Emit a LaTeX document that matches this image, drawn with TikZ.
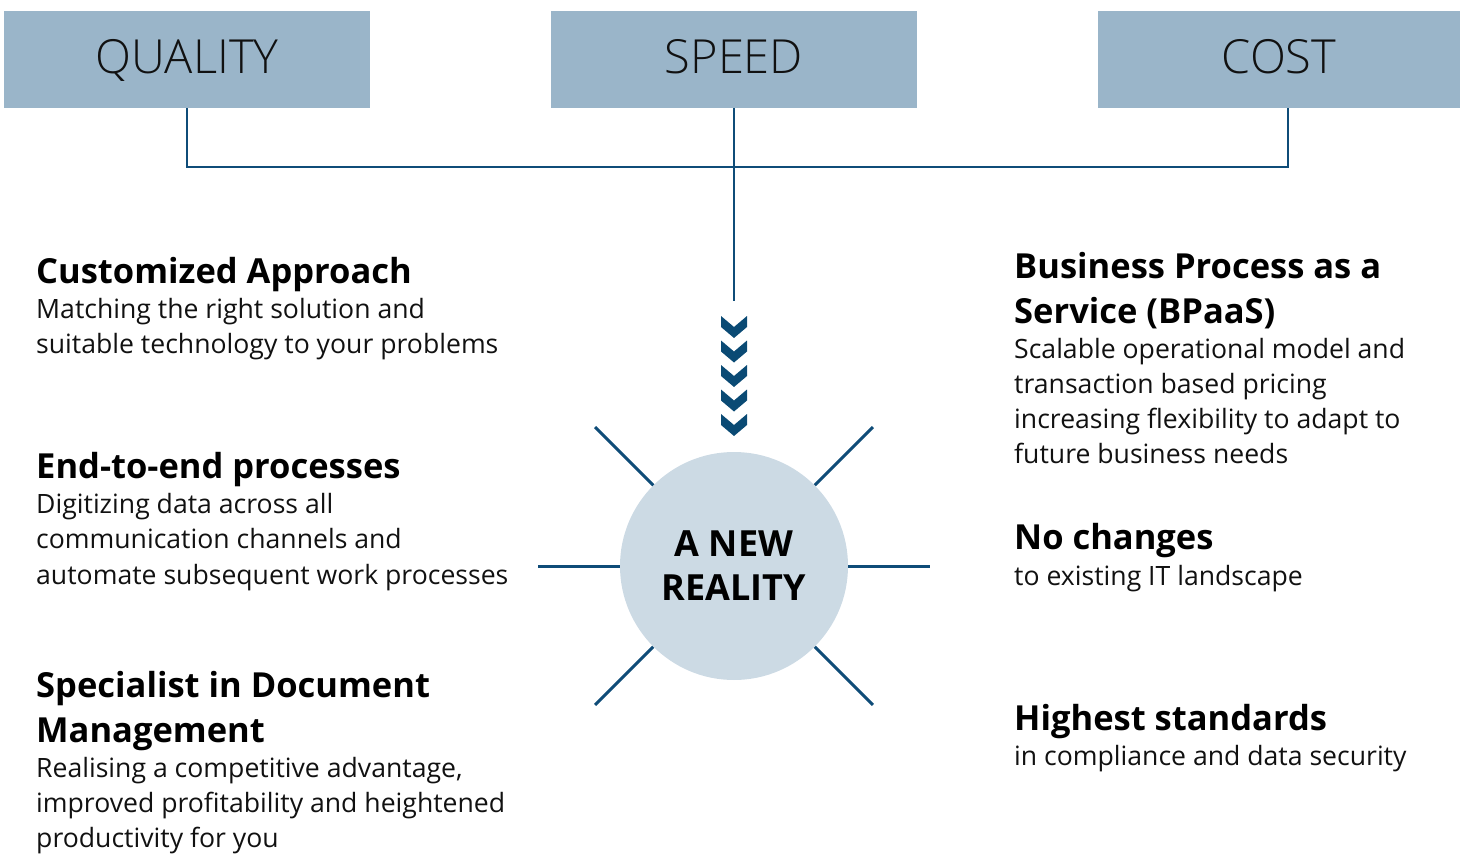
\documentclass[tikz,border=0pt]{standalone}
\usepackage{fontspec}
\setmainfont{Open Sans}
\newfontfamily\lightfont{Open Sans Light}
\usetikzlibrary{calc}
\definecolor{boxblue}{HTML}{9AB5C9}
\definecolor{linkblue}{HTML}{0F4C78}
\definecolor{chevblue}{HTML}{0A4A74}
\definecolor{circfill}{HTML}{CCDAE4}
\definecolor{inktext}{HTML}{111111}
\tikzset{
  pillar/.style={fill=boxblue, draw=none, minimum width=366, minimum height=97,
    inner sep=0, text height=33, text depth=4, text=inktext,
    font=\lightfont\fontsize{47}{52}\selectfont},
  link/.style={draw=linkblue, line width=2.4pt},
  ray/.style={draw=linkblue, line width=3pt},
  hd/.style={anchor=base west, inner sep=0, text=black, yshift=-1.5pt,
    font=\bfseries\fontsize{34.5}{40}\selectfont},
  bd/.style={anchor=base west, inner sep=0, text=inktext, yshift=-1.5pt,
    font=\fontsize{26.6}{32}\selectfont},
}
\begin{document}
\begin{tikzpicture}[x=1pt, y=-1pt]
\useasboundingbox (0,0) rectangle (1460,861);

% the three pillars
\node[pillar] (quality) at (187,59.5) {QUALITY};
\node[pillar] (speed)   at (734,59.5) {SPEED};
\node[pillar, minimum width=362] (cost) at (1279,59.5) {COST};

% connecting bracket
\coordinate (jl) at (187,167);
\coordinate (jr) at (1288,167);
\coordinate (jc) at (734,301);
\draw[link] (quality.south) -- (jl) -- (jr) -- (jr |- cost.south);
\draw[link] (speed.south) -- (jc);

% downward chevrons
\foreach \k in {0,...,4} {
  \fill[chevblue] (721,{316+24.5*\k}) -- (734,{327+24.5*\k}) -- (747,{316+24.5*\k})
    -- (747,{327+24.5*\k}) -- (734,{338+24.5*\k}) -- (721,{327+24.5*\k}) -- cycle;
}

% central circle
\node[circle, fill=circfill, minimum size=228, inner sep=0, align=center,
  text=black, font=\bfseries\fontsize{36}{44}\selectfont] (nr) at (734,566)
  {A NEW\\REALITY};

% rays, continuing the radius outwards
\foreach \a in {0,45,135,180,225,315} {
  \draw[ray] (nr.\a) -- ($(nr.center)!1.72!(nr.\a)$);
}

% left column
\node[hd] (ca) at (36,282) {Customized Approach};
\node[bd] (ca1) at (36,317) {Matching the right solution and};
\node[bd] (ca2) at (36,352) {suitable technology to your problems};

\node[hd] (ee) at (36,477) {End-to-end processes};
\node[bd] (ee1) at (36,512) {Digitizing data across all};
\node[bd] (ee2) at (36,547) {communication channels and};
\node[bd] (ee3) at (36,583) {automate subsequent work processes};

\node[hd] (sd) at (36,696) {Specialist in Document};
\node[hd] (sd0) at (36,741) {Management};
\node[bd] (sd1) at (36,776) {Realising a competitive advantage,};
\node[bd] (sd2) at (36,811) {improved profitability and heightened};
\node[bd] (sd3) at (36,846) {productivity for you};

% right column
\node[hd] (bp) at (1014,277) {Business Process as a};
\node[hd] (bp0) at (1014,322) {Service (BPaaS)};
\node[bd] (bp1) at (1014,357) {Scalable operational model and};
\node[bd] (bp2) at (1014,392) {transaction based pricing};
\node[bd] (bp3) at (1014,427) {increasing flexibility to adapt to};
\node[bd] (bp4) at (1014,462) {future business needs};

\node[hd] (nc) at (1014,548) {No changes};
\node[bd] (nc1) at (1014,584) {to existing IT landscape};

\node[hd] (hs) at (1014,729) {Highest standards};
\node[bd] (hs1) at (1014,764) {in compliance and data security};
\end{tikzpicture}
\end{document}
